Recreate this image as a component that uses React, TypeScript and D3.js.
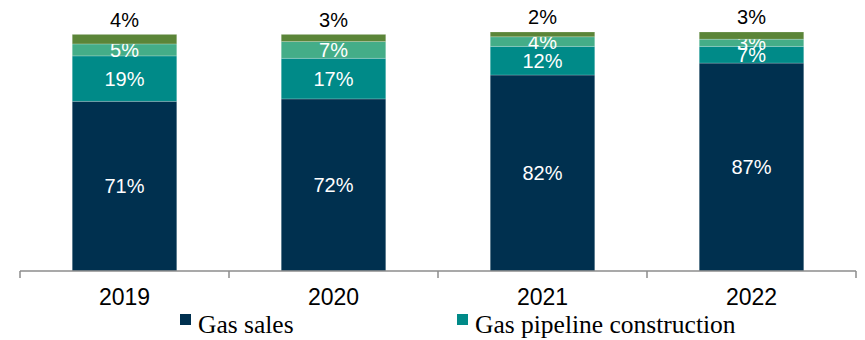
import React from "react";
import * as d3 from "d3";

const years = ["2019", "2020", "2021", "2022"];
const gasSales = [71, 72, 82, 87];
const pipeline = [19, 17, 12, 7];
const otherA = [5, 7, 4, 3];
const otherB = [4, 3, 2, 3];
const seriesNames = ["Gas sales", "Gas pipeline construction", "Other services", "Other"];
const legendNames = ["Gas sales", "Gas pipeline construction"];

const colors = ["#00304f", "#008a88", "#44ad88", "#5b8538"];

export default function App() {
  const W = 865, H = 340;
  const x0 = 20, x1 = 856, base = 271;
  const x = d3.scaleBand<string>().domain(years).range([x0, x1]).paddingInner(0.5).paddingOuter(0.25);
  const y = d3.scaleLinear().domain([0, 100]).range([base, base - 239]);
  const rows = years.map((yr, i) => ({ year: yr, s0: gasSales[i], s1: pipeline[i], s2: otherA[i], s3: otherB[i] }));
  const stack = d3.stack<any>().keys(["s0", "s1", "s2", "s3"])(rows);
  const catBand = d3.scaleBand<string>().domain(years).range([x0, x1]);
  return (
    <svg width={W} height={H} style={{ position: "absolute", left: 0, top: 0 }}>
      {stack.map((layer, li) =>
        layer.map((d, i) => {
          const yt = y(d[1]), yb = y(d[0]);
          const bx = x(years[i])!;
          const cx = bx + x.bandwidth() / 2;
          const v = d[1] - d[0];
          const outside = li === 3;
          return (
            <g key={`${li}-${i}`}>
              <rect x={bx} y={yt} width={x.bandwidth()} height={yb - yt} fill={colors[li]} stroke="rgba(255,255,255,0.25)" strokeWidth={0.8} />
              <text
                x={cx}
                y={outside ? yt - 15 : (yt + yb) / 2}
                dy="0.36em"
                textAnchor="middle"
                fontFamily="Liberation Sans, Arial, sans-serif"
                fontSize={20}
                fill={outside ? "#000" : "#fff"}
              >
                {`${v}%`}
              </text>
            </g>
          );
        })
      )}
      <line x1={x0} x2={x1} y1={base} y2={base} stroke="#8c8c8c" strokeWidth={1.5} />
      {[...years.map((yr) => catBand(yr)!), x1].map((t, i) => (
        <line key={i} x1={t} x2={t} y1={base} y2={base + 7} stroke="#8c8c8c" strokeWidth={1.5} />
      ))}
      {years.map((yr) => (
        <text key={yr} x={catBand(yr)! + catBand.bandwidth() / 2} y={297} dy="0.36em" textAnchor="middle"
          fontFamily="Liberation Sans, Arial, sans-serif" fontSize={23} fill="#000">
          {yr}
        </text>
      ))}
      {legendNames.map((n, i) => {
        const lx = i === 0 ? 180 : 457;
        return (
          <g key={n}>
            <rect x={lx} y={314} width={11} height={11} fill={colors[seriesNames.indexOf(n)]} />
            <text x={lx + 18} y={333} fontFamily="Liberation Serif, Times New Roman, serif" fontSize={25.5} fill="#000">
              {n}
            </text>
          </g>
        );
      })}
    </svg>
  );
}
